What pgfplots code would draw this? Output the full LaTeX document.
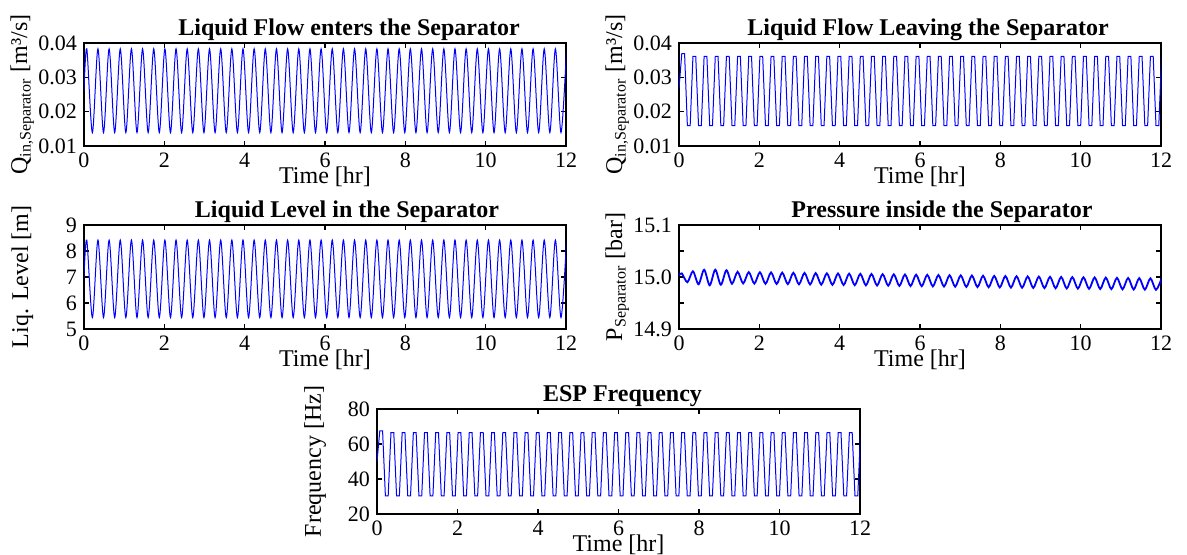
\documentclass[border=0pt]{standalone}
\usepackage{fontspec}
\setmainfont{Liberation Serif}
\usepackage{pgfplots}
\usepackage{pgfplotstable}
\pgfplotsset{compat=1.18}

% sine-like signals: start value, then alternating peaks / troughs
\pgfplotstableread{
t qin lev p
0.0000 0.0261 7.00 15.0030
0.0694 0.0383 8.42 15.0070
0.2083 0.0139 5.44 14.9900
0.3472 0.0383 8.42 15.0110
0.4861 0.0139 5.44 14.9860
0.6250 0.0383 8.42 15.0140
0.7639 0.0139 5.44 14.9840
0.9028 0.0383 8.42 15.0140
1.0417 0.0139 5.44 14.9850
1.1806 0.0383 8.42 15.0130
1.3194 0.0139 5.44 14.9870
1.4583 0.0383 8.42 15.0100
1.5972 0.0139 5.44 14.9876
1.7361 0.0383 8.42 15.0094
1.8750 0.0139 5.44 14.9873
2.0139 0.0383 8.42 15.0091
2.1528 0.0139 5.44 14.9869
2.2917 0.0383 8.42 15.0088
2.4306 0.0139 5.44 14.9866
2.5694 0.0383 8.42 15.0084
2.7083 0.0139 5.44 14.9863
2.8472 0.0383 8.42 15.0081
2.9861 0.0139 5.44 14.9859
3.1250 0.0383 8.42 15.0078
3.2639 0.0139 5.44 14.9856
3.4028 0.0383 8.42 15.0074
3.5417 0.0139 5.44 14.9853
3.6806 0.0383 8.42 15.0071
3.8194 0.0139 5.44 14.9849
3.9583 0.0383 8.42 15.0068
4.0972 0.0139 5.44 14.9846
4.2361 0.0383 8.42 15.0064
4.3750 0.0139 5.44 14.9843
4.5139 0.0383 8.42 15.0061
4.6528 0.0139 5.44 14.9839
4.7917 0.0383 8.42 15.0058
4.9306 0.0139 5.44 14.9836
5.0694 0.0383 8.42 15.0054
5.2083 0.0139 5.44 14.9833
5.3472 0.0383 8.42 15.0051
5.4861 0.0139 5.44 14.9829
5.6250 0.0383 8.42 15.0048
5.7639 0.0139 5.44 14.9826
5.9028 0.0383 8.42 15.0044
6.0417 0.0139 5.44 14.9823
6.1806 0.0383 8.42 15.0041
6.3194 0.0139 5.44 14.9819
6.4583 0.0383 8.42 15.0038
6.5972 0.0139 5.44 14.9816
6.7361 0.0383 8.42 15.0034
6.8750 0.0139 5.44 14.9813
7.0139 0.0383 8.42 15.0031
7.1528 0.0139 5.44 14.9809
7.2917 0.0383 8.42 15.0028
7.4306 0.0139 5.44 14.9806
7.5694 0.0383 8.42 15.0024
7.7083 0.0139 5.44 14.9803
7.8472 0.0383 8.42 15.0021
7.9861 0.0139 5.44 14.9799
8.1250 0.0383 8.42 15.0018
8.2639 0.0139 5.44 14.9796
8.4028 0.0383 8.42 15.0014
8.5417 0.0139 5.44 14.9793
8.6806 0.0383 8.42 15.0011
8.8194 0.0139 5.44 14.9789
8.9583 0.0383 8.42 15.0008
9.0972 0.0139 5.44 14.9786
9.2361 0.0383 8.42 15.0004
9.3750 0.0139 5.44 14.9783
9.5139 0.0383 8.42 15.0001
9.6528 0.0139 5.44 14.9779
9.7917 0.0383 8.42 14.9998
9.9306 0.0139 5.44 14.9776
10.0694 0.0383 8.42 14.9994
10.2083 0.0139 5.44 14.9773
10.3472 0.0383 8.42 14.9991
10.4861 0.0139 5.44 14.9769
10.6250 0.0383 8.42 14.9988
10.7639 0.0139 5.44 14.9766
10.9028 0.0383 8.42 14.9984
11.0417 0.0139 5.44 14.9763
11.1806 0.0383 8.42 14.9981
11.3194 0.0139 5.44 14.9759
11.4583 0.0383 8.42 14.9978
11.5972 0.0139 5.44 14.9756
11.7361 0.0383 8.42 14.9974
11.8750 0.0139 5.44 14.9753
12.0139 0.0383 8.42 14.9971
}\sinedata

% saturated signals: corners of flat tops / bottoms
\pgfplotstableread{
t qout esp
0.0000 0.0268 50.0
0.0694 0.0369 67.5
0.1389 0.0369 67.5
0.2083 0.0159 30.3
0.2778 0.0159 30.3
0.3472 0.0361 66.5
0.4167 0.0361 66.5
0.4861 0.0159 30.3
0.5556 0.0159 30.3
0.6250 0.0361 66.5
0.6944 0.0361 66.5
0.7639 0.0159 30.3
0.8333 0.0159 30.3
0.9028 0.0361 66.5
0.9722 0.0361 66.5
1.0417 0.0159 30.3
1.1111 0.0159 30.3
1.1806 0.0361 66.5
1.2500 0.0361 66.5
1.3194 0.0159 30.3
1.3889 0.0159 30.3
1.4583 0.0361 66.5
1.5278 0.0361 66.5
1.5972 0.0159 30.3
1.6667 0.0159 30.3
1.7361 0.0361 66.5
1.8056 0.0361 66.5
1.8750 0.0159 30.3
1.9444 0.0159 30.3
2.0139 0.0361 66.5
2.0833 0.0361 66.5
2.1528 0.0159 30.3
2.2222 0.0159 30.3
2.2917 0.0361 66.5
2.3611 0.0361 66.5
2.4306 0.0159 30.3
2.5000 0.0159 30.3
2.5694 0.0361 66.5
2.6389 0.0361 66.5
2.7083 0.0159 30.3
2.7778 0.0159 30.3
2.8472 0.0361 66.5
2.9167 0.0361 66.5
2.9861 0.0159 30.3
3.0556 0.0159 30.3
3.1250 0.0361 66.5
3.1944 0.0361 66.5
3.2639 0.0159 30.3
3.3333 0.0159 30.3
3.4028 0.0361 66.5
3.4722 0.0361 66.5
3.5417 0.0159 30.3
3.6111 0.0159 30.3
3.6806 0.0361 66.5
3.7500 0.0361 66.5
3.8194 0.0159 30.3
3.8889 0.0159 30.3
3.9583 0.0361 66.5
4.0278 0.0361 66.5
4.0972 0.0159 30.3
4.1667 0.0159 30.3
4.2361 0.0361 66.5
4.3056 0.0361 66.5
4.3750 0.0159 30.3
4.4444 0.0159 30.3
4.5139 0.0361 66.5
4.5833 0.0361 66.5
4.6528 0.0159 30.3
4.7222 0.0159 30.3
4.7917 0.0361 66.5
4.8611 0.0361 66.5
4.9306 0.0159 30.3
5.0000 0.0159 30.3
5.0694 0.0361 66.5
5.1389 0.0361 66.5
5.2083 0.0159 30.3
5.2778 0.0159 30.3
5.3472 0.0361 66.5
5.4167 0.0361 66.5
5.4861 0.0159 30.3
5.5556 0.0159 30.3
5.6250 0.0361 66.5
5.6944 0.0361 66.5
5.7639 0.0159 30.3
5.8333 0.0159 30.3
5.9028 0.0361 66.5
5.9722 0.0361 66.5
6.0417 0.0159 30.3
6.1111 0.0159 30.3
6.1806 0.0361 66.5
6.2500 0.0361 66.5
6.3194 0.0159 30.3
6.3889 0.0159 30.3
6.4583 0.0361 66.5
6.5278 0.0361 66.5
6.5972 0.0159 30.3
6.6667 0.0159 30.3
6.7361 0.0361 66.5
6.8056 0.0361 66.5
6.8750 0.0159 30.3
6.9444 0.0159 30.3
7.0139 0.0361 66.5
7.0833 0.0361 66.5
7.1528 0.0159 30.3
7.2222 0.0159 30.3
7.2917 0.0361 66.5
7.3611 0.0361 66.5
7.4306 0.0159 30.3
7.5000 0.0159 30.3
7.5694 0.0361 66.5
7.6389 0.0361 66.5
7.7083 0.0159 30.3
7.7778 0.0159 30.3
7.8472 0.0361 66.5
7.9167 0.0361 66.5
7.9861 0.0159 30.3
8.0556 0.0159 30.3
8.1250 0.0361 66.5
8.1944 0.0361 66.5
8.2639 0.0159 30.3
8.3333 0.0159 30.3
8.4028 0.0361 66.5
8.4722 0.0361 66.5
8.5417 0.0159 30.3
8.6111 0.0159 30.3
8.6806 0.0361 66.5
8.7500 0.0361 66.5
8.8194 0.0159 30.3
8.8889 0.0159 30.3
8.9583 0.0361 66.5
9.0278 0.0361 66.5
9.0972 0.0159 30.3
9.1667 0.0159 30.3
9.2361 0.0361 66.5
9.3056 0.0361 66.5
9.3750 0.0159 30.3
9.4444 0.0159 30.3
9.5139 0.0361 66.5
9.5833 0.0361 66.5
9.6528 0.0159 30.3
9.7222 0.0159 30.3
9.7917 0.0361 66.5
9.8611 0.0361 66.5
9.9306 0.0159 30.3
10.0000 0.0159 30.3
10.0694 0.0361 66.5
10.1389 0.0361 66.5
10.2083 0.0159 30.3
10.2778 0.0159 30.3
10.3472 0.0361 66.5
10.4167 0.0361 66.5
10.4861 0.0159 30.3
10.5556 0.0159 30.3
10.6250 0.0361 66.5
10.6944 0.0361 66.5
10.7639 0.0159 30.3
10.8333 0.0159 30.3
10.9028 0.0361 66.5
10.9722 0.0361 66.5
11.0417 0.0159 30.3
11.1111 0.0159 30.3
11.1806 0.0361 66.5
11.2500 0.0361 66.5
11.3194 0.0159 30.3
11.3889 0.0159 30.3
11.4583 0.0361 66.5
11.5278 0.0361 66.5
11.5972 0.0159 30.3
11.6667 0.0159 30.3
11.7361 0.0361 66.5
11.8056 0.0361 66.5
11.8750 0.0159 30.3
11.9444 0.0159 30.3
12.0139 0.0361 66.5
}\clipdata

\pgfplotsset{
  sub/.style={
    anchor=south west, scale only axis, width=241pt, height=52pt,
    xmin=0, xmax=12, xtick={0,2,4,6,8,10,12},
    axis line style={line width=0.8pt},
    tick style={black, line width=0.6pt},
    major tick length=2.5pt, minor tick length=2.5pt,
    /pgf/number format/assume math mode=true,
    tick label style={font=\fontsize{11}{11}\selectfont},
    label style={font=\fontsize{12}{12}\selectfont},
    title style={font=\fontsize{12}{12}\selectfont\bfseries, at={(0.5,1)}, anchor=base, yshift=-2.25pt},
    xlabel={Time [hr]},
    xlabel style={at={(axis description cs:0.5,-0.36)}, anchor=base},
    ylabel style={at={(axis description cs:-0.128,0.5)}, anchor=center},
    no markers,
    every axis plot/.append style={blue, line width=0.5pt},
  }
}

\begin{document}
\begin{tikzpicture}
\path[use as bounding box] (0,0) rectangle (593.5pt,277.5pt);

\begin{axis}[sub, at={(42pt,204.5pt)}, height=51.5pt,
  ymin=0.01, ymax=0.04, ytick={0.01,0.02,0.03,0.04}, scaled y ticks=false,
  yticklabel style={/pgf/number format/.cd, fixed, fixed zerofill, precision=2},
  title={Liquid Flow enters the Separator}, title style={xshift=12pt},
  ylabel={Q\textsubscript{in,Separator} [m³/s]}]
\addplot[smooth] table[x=t, y=qin] {\sinedata};
\end{axis}

\begin{axis}[sub, at={(339.5pt,204.5pt)}, height=51.5pt,
  ymin=0.01, ymax=0.04, ytick={0.01,0.02,0.03,0.04}, scaled y ticks=false,
  yticklabel style={/pgf/number format/.cd, fixed, fixed zerofill, precision=2},
  title={Liquid Flow Leaving the Separator}, title style={xshift=4pt},
  ylabel={Q\textsubscript{in,Separator} [m³/s]}]
\addplot table[x=t, y=qout] {\clipdata};
\end{axis}

\begin{axis}[sub, at={(42pt,113pt)}, height=52pt,
  ymin=5, ymax=9, ytick={5,6,7,8,9},
  title={Liquid Level in the Separator}, title style={xshift=11pt},
  ylabel={Liq. Level [m]}]
\addplot[smooth] table[x=t, y=lev] {\sinedata};
\end{axis}

\begin{axis}[sub, at={(339.5pt,113pt)}, height=52pt,
  ymin=14.9, ymax=15.1, ytick={14.9,15.0,15.1}, minor ytick={14.95,15.05},
  yticklabel style={/pgf/number format/.cd, fixed, fixed zerofill, precision=1},
  title={Pressure inside the Separator}, title style={xshift=11pt},
  ylabel={P\textsubscript{Separator} [bar]}]
\addplot[smooth, line width=0.9pt] table[x=t, y=p] {\sinedata};
\end{axis}

\begin{axis}[sub, at={(188.5pt,20.5pt)}, width=241.5pt, height=52.5pt,
  ymin=20, ymax=80, ytick={20,40,60,80},
  title={ESP Frequency}, title style={xshift=2pt},
  ylabel={Frequency [Hz]}]
\addplot table[x=t, y=esp] {\clipdata};
\end{axis}

\end{tikzpicture}
\end{document}
